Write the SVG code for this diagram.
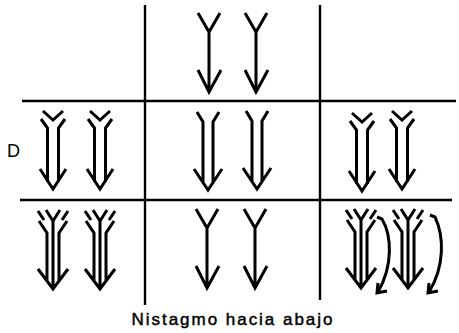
<svg xmlns="http://www.w3.org/2000/svg" xmlns:xlink="http://www.w3.org/1999/xlink" width="459" height="333" viewBox="0 0 459 333">
<style>
.grid{stroke:#000;stroke-width:2.4;fill:none}
.arr{stroke:#000;stroke-width:3;fill:none;stroke-linejoin:miter;stroke-linecap:butt}
.lbl{font-family:"Liberation Sans",Arial,sans-serif;fill:#000}
.cap{stroke:#000;stroke-width:0.45}
</style>
<defs>
<g id="single" class="arr"><path d="M-11,-79 L0,-60 L11,-79 M0,-60 V-1 M-11,-22 L0,0 L12,-22"/></g>
<g id="double" class="arr"><path d="M-11,-78 L-5,-68 V-7 M11,-78 L5,-68 V-7 M-14,-21 L0,0 L14,-21"/></g>
<g id="dbltail" class="arr"><path d="M-10,-78 L0,-69 L10,-78 M-12,-70 L-5.5,-61 V-7 M12,-70 L5.5,-61 V-7 M-13,-20 L0,0 L13,-20"/></g>
<g id="triple" class="arr"><path d="M-7,-79 L0,-68 L7,-79 M0,-68 V-2 M-15,-78 L-9,-69 M15,-78 L9,-69 M-14,-68 L-6,-56 V-8 M14,-68 L6,-56 V-8 M-15,-20 L0,0 L15,-20"/></g>
</defs>
<g id="grid" class="grid">
<line x1="145" y1="5" x2="145" y2="305"/>
<line x1="320" y1="5" x2="320" y2="300"/>
<line x1="22" y1="101" x2="456" y2="101"/>
<line x1="20" y1="200" x2="452" y2="200"/>
</g>
<g id="top-center"><use xlink:href="#single" x="209" y="92"/><use xlink:href="#single" x="256" y="92"/></g>
<g id="mid-left"><use xlink:href="#dbltail" x="53" y="189"/><use xlink:href="#dbltail" x="100" y="189"/></g>
<g id="mid-center"><use xlink:href="#double" x="208" y="190"/><use xlink:href="#double" x="257" y="189"/></g>
<g id="mid-right"><use xlink:href="#dbltail" x="362" y="191"/><use xlink:href="#dbltail" x="402" y="189"/></g>
<g id="bot-left"><use xlink:href="#triple" x="53" y="289"/><use xlink:href="#triple" x="100" y="289"/></g>
<g id="bot-center"><use xlink:href="#single" x="207" y="288"/><use xlink:href="#single" x="255" y="288"/></g>
<g id="bot-right"><use xlink:href="#triple" x="361" y="288"/><use xlink:href="#triple" x="408" y="288"/>
<path class="arr" d="M377,217 L382,219 C392,236 393,266 378,292 M378,283 L377,293 L387,291"/>
<path class="arr" d="M430,215 L435,217 C444,236 445,266 429,292 M429,283 L428,293 L438,291"/>
</g>
<g id="labels">
<text class="lbl" x="7" y="157" font-size="18">D</text>
<text class="lbl cap" x="232" y="325" font-size="17" text-anchor="middle" textLength="201" lengthAdjust="spacing">Nistagmo hacia abajo</text>
</g>
</svg>
